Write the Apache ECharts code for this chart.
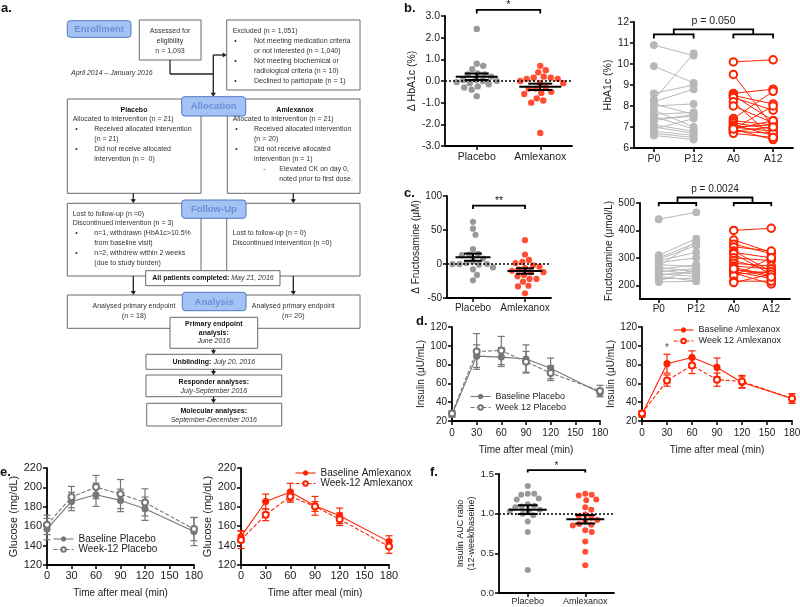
<!DOCTYPE html>
<html><head><meta charset="utf-8">
<script src="https://cdn.jsdelivr.net/npm/echarts@6/dist/echarts.min.js"></script>
<style>html,body{margin:0;padding:0;background:#fff}#c{width:800px;height:607px}</style>
</head><body><div id="c"></div>
<script>
// ================= DATA =================
const groupLabels = ['Placebo', 'Amlexanox'];
const pairLabels = ['P0', 'P12', 'A0', 'A12'];
const timePoints = [0, 30, 60, 90, 120, 180];

// b. change in HbA1c (%)
const dHbA1cPlacebo = [2.4, 0.7, 0.55, 0.8, 0.35, 0.3, 0.3, 0.2, 0.05, 0, 0, 0.05, -0.05, -0.1, -0.15, -0.25, -0.3, -0.4, -0.7];
const dHbA1cAmlexanox = [0.7, 0.5, 0.4, 0.2, 0.15, 0.15, 0.1, 0.1, 0, -0.1, -0.1, -0.3, -0.35, -0.35, -0.5, -0.55, -0.6, -0.8, -0.9, -1.0, -2.4];
// b. HbA1c (%) paired
const hbaP0  = [10.9, 9.9, 8.6, 8.3, 8.2, 8.1, 8.0, 7.8, 7.6, 7.5, 7.4, 7.3, 7.1, 7.0, 6.9, 6.8, 6.7, 6.6];
const hbaP12 = [10.4, 9.1, 9.0, 10.5, 8.8, 7.6, 8.1, 7.0, 7.7, 6.9, 7.5, 7.6, 6.8, 6.7, 7.4, 6.6, 6.5, 6.4];
const hbaA0  = [10.1, 9.5, 8.6, 8.5, 8.5, 8.4, 8.2, 8.0, 7.4, 7.3, 7.2, 7.1, 7.0, 7.0, 6.9, 6.9, 6.8, 6.8, 6.7, 6.9];
const hbaA12 = [10.2, 7.0, 8.8, 8.1, 7.3, 7.8, 6.5, 7.2, 8.7, 7.1, 6.9, 6.6, 7.1, 6.8, 7.3, 6.4, 6.7, 7.0, 6.5, 8.0];
// c. change in fructosamine (uM)
const dFrucPlacebo = [62, 52, 43, 22, 15, 14, 13, 8, 4, 1.5, 0, 0, 0, -1, -5, -8, -16, -24];
const dFrucAmlexanox = [35, 14, 6, 3, 1.5, -2, -4, -6, -8, -10, -12, -12, -16, -18, -22, -22, -26, -32, -33, -43];
// c. fructosamine (umol/L) paired
const frucP0  = [441, 310, 300, 295, 290, 283, 275, 270, 265, 258, 255, 249, 242, 238, 233, 225, 215, 212];
const frucP12 = [466, 370, 355, 345, 320, 300, 268, 360, 250, 275, 240, 262, 232, 250, 215, 225, 260, 215];
const frucA0  = [400, 365, 350, 340, 325, 320, 315, 300, 290, 280, 270, 265, 255, 250, 245, 240, 235, 215, 210, 260];
const frucA12 = [408, 320, 315, 325, 250, 300, 240, 290, 255, 270, 260, 235, 245, 225, 205, 250, 300, 215, 240, 230];
// d. insulin (uU/mL), mean and SEM
const insBasePlacebo = [27, 89, 88, 86, 76, 50];
const insBasePlaceboSem = [3, 12, 10, 15, 11, 4];
const insWk12Placebo = [28, 94, 95, 83, 71, 52];
const insWk12PlaceboSem = [3, 19, 15, 11, 8, 6];
const insBaseAmlex = [27, 81, 87.6, 77, 61, 44];
const insBaseAmlexSem = [3, 10, 7, 10, 6, 5];
const insWk12Amlex = [28, 63, 79, 64, 62, 44];
const insWk12AmlexSem = [3, 6, 8.5, 7, 6.5, 5];
// e. glucose (mg/dL), mean and SEM
const gluBasePlacebo = [157, 185.5, 192.4, 186.6, 178, 154.5];
const gluBasePlaceboSem = [11, 9.5, 12, 11.6, 12, 14.5];
const gluWk12Placebo = [161.4, 190, 200.3, 193.1, 184.5, 157];
const gluWk12PlaceboSem = [10, 11, 12, 15, 14, 12];
const gluBaseAmlex = [149.3, 185.5, 195.2, 181, 170.7, 144.1];
const gluBaseAmlexSem = [6, 7.6, 9, 9.7, 8, 6];
const gluWk12Amlex = [145.9, 171.7, 190.7, 180.3, 167.2, 139];
const gluWk12AmlexSem = [9, 6, 6, 5, 6.5, 7];
// f. insulin AUC ratio
const aucPlacebo = [1.35, 1.25, 1.25, 1.24, 1.19, 1.18, 1.12, 1.1, 1.09, 1.08, 1.05, 1.04, 1.03, 1.0, 0.98, 0.9, 0.77, 0.29];
const aucAmlexanox = [1.25, 1.24, 1.23, 1.18, 1.17, 1.08, 1.05, 0.99, 0.97, 0.95, 0.92, 0.9, 0.87, 0.86, 0.85, 0.79, 0.77, 0.65, 0.52, 0.35];
// annotations
const sigB = '*', sigC = '**', sigF = '*', sigD = '*';
const pHbA1c = 'p = 0.050', pFruc = 'p = 0.0024';

// ================= STYLE / LAYOUT =================
const FF = '"Liberation Sans", Arial, Helvetica, sans-serif';
const RED = '#ff2200', GRAY = '#808080', LGRAY = '#b8b8b8', DGRAY = '#777777';
const grids = [
  {left: 445, top: 16, width: 127, height: 130},   // 0 b-left
  {left: 634, top: 22, width: 159, height: 126},   // 1 b-right
  {left: 447, top: 196, width: 104, height: 102},  // 2 c-left
  {left: 640, top: 203, width: 150, height: 96},   // 3 c-right
  {left: 452, top: 327, width: 148, height: 94},   // 4 d-left
  {left: 642, top: 327, width: 150, height: 94},   // 5 d-right
  {left: 47, top: 468, width: 147, height: 97},    // 6 e-left
  {left: 241, top: 468, width: 148, height: 97},   // 7 e-right
  {left: 499, top: 474, width: 115, height: 119}   // 8 f
];

function meanSem(a) {
  const n = a.length, m = a.reduce((s, v) => s + v, 0) / n;
  const sd = Math.sqrt(a.reduce((s, v) => s + (v - m) * (v - m), 0) / (n - 1));
  return [m, sd / Math.sqrt(n)];
}
// deterministic beeswarm: offsets computed in pixel space
function swarm(vals, center, pxPerY, pxPerX, d) {
  const order = vals.map((v, i) => i).sort((a, b) => vals[b] - vals[a]);
  const placed = [], out = [];
  order.forEach(i => {
    const py = vals[i] * pxPerY;
    for (let k = 0; k < 400; k++) {
      const off = (k === 0 ? 0 : (k % 2 ? 1 : -1) * Math.ceil(k / 2)) * 0.5;
      if (placed.every(p => (p[0] - off) ** 2 + (p[1] - py) ** 2 >= d * d)) {
        placed.push([off, py]); out.push([center + off / pxPerX, vals[i]]); break;
      }
    }
  });
  return out;
}

const axLine = {show: true, onZero: false, lineStyle: {color: '#000', width: 1.8}};
const axTick = {show: true, length: 4, lineStyle: {color: '#000', width: 1.5}};
function yAx(gi, o) {
  const a = {
    type: 'value', gridIndex: gi, min: o.min, max: o.max,
    name: o.name, nameLocation: 'middle', nameGap: o.gap, nameRotate: 90,
    nameTextStyle: {fontSize: o.nfs || o.fs, color: '#222', fontFamily: FF, lineHeight: o.nlh},
    axisLine: axLine, axisTick: Object.assign({}, axTick),
    axisLabel: {fontSize: o.fs, color: '#222', fontFamily: FF, margin: 5, formatter: o.fmt},
    splitLine: {show: false}
  };
  if (o.interval != null) a.interval = o.interval;
  if (o.custom) { a.axisLabel.customValues = o.custom; a.axisTick.customValues = o.custom; }
  return a;
}
function xCat(gi, labels, fs, margin) {
  const vals = labels.map((_, i) => i);
  return {
    type: 'value', gridIndex: gi, min: -0.5, max: labels.length - 0.5,
    axisLine: axLine, axisTick: Object.assign({customValues: vals}, axTick),
    axisLabel: {customValues: vals, formatter: v => labels[Math.round(v)], fontSize: fs, color: '#222', fontFamily: FF, margin: margin},
    splitLine: {show: false}
  };
}
function xTime(gi, fs, nfs, gap, margin) {
  return {
    type: 'value', gridIndex: gi, min: 0, max: 180, interval: 30,
    name: 'Time after meal (min)', nameLocation: 'middle', nameGap: gap,
    nameTextStyle: {fontSize: nfs, color: '#222', fontFamily: FF},
    axisLine: axLine, axisTick: axTick,
    axisLabel: {fontSize: fs, color: '#222', fontFamily: FF, margin: margin},
    splitLine: {show: false}
  };
}

const series = [];
function dots(gi, vals, c, color, yr, size, refY) {
  const g = grids[gi];
  const s = {type: 'scatter', xAxisIndex: gi, yAxisIndex: gi, silent: true, z: 3,
    data: swarm(vals, c, g.height / yr, g.width / 2, size + 0.4),
    symbol: 'circle', symbolSize: size, itemStyle: {color: color}};
  if (refY != null) s.markLine = {silent: true, symbol: ['none', 'none'], label: {show: false},
    lineStyle: {type: [2, 2], color: '#000', width: 1.6}, data: [{yAxis: refY}], z: 4};
  series.push(s);
}
function meanSemSeries(gi, vals, c, hm, hs) {
  const ms = meanSem(vals);
  series.push({type: 'custom', xAxisIndex: gi, yAxisIndex: gi, silent: true, z: 6,
    data: [[c, ms[0], ms[1]]],
    renderItem: (p, api) => {
      const x = api.value(0), m = api.value(1), s = api.value(2);
      const cm = api.coord([x, m]), t = api.coord([x, m + s]), b = api.coord([x, m - s]);
      const st = {stroke: '#000', lineWidth: 2};
      return {type: 'group', children: [
        {type: 'line', shape: {x1: cm[0] - hm, y1: cm[1], x2: cm[0] + hm, y2: cm[1]}, style: st},
        {type: 'line', shape: {x1: t[0], y1: t[1], x2: b[0], y2: b[1]}, style: st},
        {type: 'line', shape: {x1: t[0] - hs, y1: t[1], x2: t[0] + hs, y2: t[1]}, style: st},
        {type: 'line', shape: {x1: b[0] - hs, y1: b[1], x2: b[0] + hs, y2: b[1]}, style: st}
      ]};
    }});
}
function bracket(gi, x1, x2, y, ye, text, fs) {
  series.push({type: 'custom', xAxisIndex: gi, yAxisIndex: gi, silent: true, z: 7, clip: false,
    data: [[x1, x2, y, ye]],
    renderItem: (p, api) => {
      const a = api.coord([api.value(0), api.value(2)]), b = api.coord([api.value(1), api.value(2)]);
      const ae = api.coord([api.value(0), api.value(3)]), be = api.coord([api.value(1), api.value(3)]);
      return {type: 'group', children: [
        {type: 'polyline', shape: {points: [ae, a, b, be]}, style: {stroke: '#000', lineWidth: 1.8, fill: null}},
        {type: 'text', style: {text: text, x: (a[0] + b[0]) / 2, y: a[1] + 1, align: 'center', verticalAlign: 'bottom', fontSize: fs, fontFamily: FF, fill: '#222'}}
      ]};
    }});
}
function pairBracket(gi, ys, ye, yt, text, fs) {
  series.push({type: 'custom', xAxisIndex: gi, yAxisIndex: gi, silent: true, z: 7, clip: false,
    data: [[ys, ye, yt]],
    renderItem: (p, api) => {
      const s = api.value(0), e = api.value(1), t = api.value(2);
      const P = [0, 1, 2, 3].map(i => api.coord([i, s])), E = [0, 1, 2, 3].map(i => api.coord([i, e]));
      const m1 = (P[0][0] + P[1][0]) / 2, m2 = (P[2][0] + P[3][0]) / 2, yT = api.coord([0, t])[1];
      const st = {stroke: '#000', lineWidth: 1.8, fill: null};
      return {type: 'group', children: [
        {type: 'polyline', shape: {points: [E[0], P[0], P[1], E[1]]}, style: st},
        {type: 'polyline', shape: {points: [E[2], P[2], P[3], E[3]]}, style: st},
        {type: 'polyline', shape: {points: [[m1, P[0][1]], [m1, yT], [m2, yT], [m2, P[0][1]]]}, style: st},
        {type: 'text', style: {text: text, x: (m1 + m2) / 2, y: yT - 3, align: 'center', verticalAlign: 'bottom', fontSize: fs, fontFamily: FF, fill: '#222'}}
      ]};
    }});
}
function pairs(gi, before, after, i0, color, open) {
  before.forEach((v, i) => series.push({type: 'line', xAxisIndex: gi, yAxisIndex: gi, silent: true, z: 3,
    data: [[i0, v], [i0 + 1, after[i]]], symbol: open ? 'emptyCircle' : 'circle', symbolSize: open ? 7.5 : 6.8,
    lineStyle: {color: color, width: 1}, itemStyle: {color: color, borderColor: color, borderWidth: 1.1}}));
}
function errBars(gi, mean, sem, color) {
  series.push({type: 'custom', xAxisIndex: gi, yAxisIndex: gi, silent: true, z: 2,
    data: timePoints.map((t, i) => [t, mean[i], sem[i]]),
    renderItem: (p, api) => {
      const x = api.value(0), m = api.value(1), s = api.value(2);
      const t = api.coord([x, m + s]), b = api.coord([x, m - s]);
      const st = {stroke: color, lineWidth: 1.2};
      return {type: 'group', children: [
        {type: 'line', shape: {x1: t[0], y1: t[1], x2: b[0], y2: b[1]}, style: st},
        {type: 'line', shape: {x1: t[0] - 3.5, y1: t[1], x2: t[0] + 3.5, y2: t[1]}, style: st},
        {type: 'line', shape: {x1: b[0] - 3.5, y1: b[1], x2: b[0] + 3.5, y2: b[1]}, style: st}
      ]};
    }});
}
function tsLine(gi, name, mean, color, dashed, open) {
  series.push({type: 'line', name: name, xAxisIndex: gi, yAxisIndex: gi, silent: true, z: 4,
    data: timePoints.map((t, i) => [t, mean[i]]),
    symbol: open ? 'emptyCircle' : 'circle', symbolSize: 6,
    lineStyle: {color: color, width: 1.1, type: dashed ? [4, 2] : 'solid'},
    itemStyle: {color: color, borderColor: color, borderWidth: 1.1}});
}

// b-left
dots(0, dHbA1cPlacebo, 0, GRAY, 6, 6.4, 0);
dots(0, dHbA1cAmlexanox, 1, RED, 6, 6.4);
meanSemSeries(0, dHbA1cPlacebo, 0, 21, 12);
meanSemSeries(0, dHbA1cAmlexanox, 1, 21, 12);
bracket(0, 0, 1, 3.28, 3.12, sigB, 11);
// b-right
pairs(1, hbaP0, hbaP12, 0, LGRAY, false);
pairs(1, hbaA0, hbaA12, 2, RED, true);
pairBracket(1, 11.41, 11.22, 11.65, pHbA1c, 10.5);
// c-left
dots(2, dFrucPlacebo, 0, GRAY, 150, 6.2, 0);
dots(2, dFrucAmlexanox, 1, RED, 150, 6.2);
meanSemSeries(2, dFrucPlacebo, 0, 17.5, 9);
meanSemSeries(2, dFrucAmlexanox, 1, 17.5, 9);
bracket(2, 0, 1, 85.7, 80.9, sigC, 10.5);
// c-right
pairs(3, frucP0, frucP12, 0, LGRAY, false);
pairs(3, frucA0, frucA12, 2, RED, true);
pairBracket(3, 500, 488, 520, pFruc, 10);
// d
errBars(4, insBasePlacebo, insBasePlaceboSem, DGRAY);
errBars(4, insWk12Placebo, insWk12PlaceboSem, DGRAY);
tsLine(4, 'Baseline Placebo', insBasePlacebo, DGRAY, false, false);
tsLine(4, 'Week 12 Placebo', insWk12Placebo, DGRAY, true, true);
errBars(5, insBaseAmlex, insBaseAmlexSem, RED);
errBars(5, insWk12Amlex, insWk12AmlexSem, RED);
tsLine(5, 'Baseline Amlexanox', insBaseAmlex, RED, false, false);
tsLine(5, 'Week 12 Amlexanox', insWk12Amlex, RED, true, true);
series.push({type: 'scatter', xAxisIndex: 5, yAxisIndex: 5, silent: true, data: [[30, 97]], symbolSize: 0,
  label: {show: true, position: 'inside', formatter: sigD, fontSize: 10, color: '#222', fontFamily: FF}});
// e
errBars(6, gluBasePlacebo, gluBasePlaceboSem, DGRAY);
errBars(6, gluWk12Placebo, gluWk12PlaceboSem, DGRAY);
tsLine(6, 'Baseline Placebo', gluBasePlacebo, DGRAY, false, false);
tsLine(6, 'Week-12 Placebo', gluWk12Placebo, DGRAY, true, true);
errBars(7, gluBaseAmlex, gluBaseAmlexSem, RED);
errBars(7, gluWk12Amlex, gluWk12AmlexSem, RED);
tsLine(7, 'Baseline Amlexanox', gluBaseAmlex, RED, false, false);
tsLine(7, 'Week-12 Amlexanox', gluWk12Amlex, RED, true, true);
// f
dots(8, aucPlacebo, 0, GRAY, 1.5, 6, 1.0);
dots(8, aucAmlexanox, 1, RED, 1.5, 6);
meanSemSeries(8, aucPlacebo, 0, 19, 10);
meanSemSeries(8, aucAmlexanox, 1, 19, 10);
bracket(8, 0, 1, 1.55, 1.52, sigF, 10);

// ================= FLOWCHART (panel a) =================
const flow = [];
function fbox(x, y, w, h, z) { flow.push({type: 'rect', z: z || 10, shape: {x: x, y: y, width: w, height: h}, style: {fill: '#fff', stroke: '#6a6a6a', lineWidth: 1}}); }
function fhead(x, y, w, h, t) {
  flow.push({type: 'rect', z: 40, shape: {x: x, y: y, width: w, height: h, r: 3}, style: {fill: '#a4c2f4', stroke: '#4f78c4', lineWidth: 1}});
  flow.push({type: 'text', z: 41, style: {text: t, x: x + w / 2, y: y + h / 2 + 0.5, align: 'center', verticalAlign: 'middle', fill: '#6a8fd6', fontSize: 9.5, fontWeight: 'bold', fontFamily: FF}});
}
function ft(x, y, t, o) { flow.push({type: 'text', z: 50, style: Object.assign({text: t, x: x, y: y, align: 'left', verticalAlign: 'middle', fill: '#333', fontSize: 7, fontFamily: FF}, o || {})}); }
function fc(x, y, t, o) { ft(x, y, t, Object.assign({align: 'center'}, o || {})); }
const B = {fontWeight: 'bold', fill: '#111'}, I = {fontStyle: 'italic'};
function fl(x1, y1, x2, y2) { flow.push({type: 'line', z: 30, shape: {x1: x1, y1: y1, x2: x2, y2: y2}, style: {stroke: '#222', lineWidth: 1.3}}); }
function fad(x, y1, y2) { fl(x, y1, x, y2 - 3); flow.push({type: 'polygon', z: 30, shape: {points: [[x - 2.6, y2 - 4], [x + 2.6, y2 - 4], [x, y2]]}, style: {fill: '#222'}}); }
function far(x1, x2, y) { fl(x1, y, x2 - 3, y); flow.push({type: 'polygon', z: 30, shape: {points: [[x2 - 4, y - 2.6], [x2 - 4, y + 2.6], [x2, y]]}, style: {fill: '#222'}}); }
function frich(x, y, b, i) {
  flow.push({type: 'text', z: 50, style: {text: '{b|' + b + '} {i|' + i + '}', x: x, y: y, align: 'center', verticalAlign: 'middle',
    fontSize: 7, fontFamily: FF, rich: {b: {fontSize: 7, fontFamily: FF, fontWeight: 'bold', fill: '#111'}, i: {fontSize: 7, fontFamily: FF, fontStyle: 'italic', fill: '#333'}}}});
}
// enrollment
fhead(67.3, 20.7, 63.7, 16.6, 'Enrollment');
fbox(139.3, 20, 61.7, 40);
fc(170, 30.7, 'Assessed for'); fc(170, 40.7, 'eligibility'); fc(170, 50.7, 'n = 1,093');
fbox(226.7, 20, 133.3, 70);
ft(232.7, 30.7, 'Excluded (n = 1,051)');
[40.7, 60.7, 80.7].forEach(y => ft(234.3, y, '•'));
ft(254, 40.7, 'Not meeting medication criteria'); ft(254, 50.7, 'or not interested (n = 1,040)');
ft(254, 60.7, 'Not meeting biochemical or'); ft(254, 70.7, 'radiological criteria (n = 10)');
ft(254, 80.7, 'Declined to participate (n = 1)');
ft(71, 73.3, 'April 2014 – January 2016', I);
fl(170, 60, 170, 74); fl(170, 74, 213.3, 74); fad(213.3, 55, 96.7); far(213.3, 226.7, 55);
// allocation
fbox(67.3, 99, 133.7, 94.3); fbox(227.3, 99, 132.7, 94.3);
fhead(181.7, 96.7, 64, 19.3, 'Allocation');
fc(134, 110, 'Placebo', B); ft(72.7, 119.3, 'Allocated to intervention (n = 21)');
[129.3, 149].forEach(y => ft(75.3, y, '•'));
ft(94.3, 129.3, 'Received allocated intervention'); ft(94.3, 139, '(n = 21)');
ft(94.3, 149, 'Did not receive allocated'); ft(94.3, 159, 'intervention (n =  0)');
fc(295, 110, 'Amlexanox', B); ft(232.7, 119.3, 'Allocated to intervention (n = 21)');
[129.3, 149].forEach(y => ft(235.3, y, '•'));
ft(254, 129.3, 'Received allocated intervention'); ft(254, 139, '(n = 20)');
ft(254, 149, 'Did not receive allocated'); ft(254, 159, 'intervention (n = 1)');
ft(263.3, 169, '-'); ft(279.3, 169, 'Elevated CK on day 0,'); ft(279.3, 179, 'noted prior to first dose.');
fad(133.3, 193.3, 203.3); fad(293.3, 193.3, 203.3);
// follow-up
fbox(67.3, 203.3, 133.7, 72.7); fbox(226.7, 203.3, 133.3, 72.7);
fhead(181.7, 200, 64.3, 18.3, 'Follow-Up');
ft(72.7, 214, 'Lost to follow-up (n =0)'); ft(72.7, 223.3, 'Discontinued intervention (n = 3)');
[233.3, 253].forEach(y => ft(75.3, y, '•'));
ft(94.3, 233.3, 'n=1, withdrawn (HbA1c>10.5%'); ft(94.3, 243, 'from baseline visit)');
ft(94.3, 253, 'n=2, withdrew within 2 weeks'); ft(94.3, 262.7, '(due to study burden)');
ft(232.7, 233.3, 'Lost to follow-up (n = 0)'); ft(232.7, 243, 'Discontinued intervention (n =0)');
fbox(145.7, 270.7, 134.3, 15, 35); frich(213, 278.3, 'All patients completed:', 'May 21, 2016');
fad(133.3, 276, 295); fad(293.3, 276, 295);
// analysis
fbox(67.3, 295, 292.7, 33.3);
fhead(182.3, 292.3, 63.7, 18.4, 'Analysis');
fc(134, 306, 'Analysed primary endpoint'); fc(134, 316, '(n = 18)');
fc(293.3, 306, 'Analysed primary endpoint'); fc(293.3, 316, '(n= 20)');
fbox(170, 317.3, 87.7, 31, 35);
fc(213.8, 324, 'Primary endpoint', B); fc(213.8, 332.7, 'analysis:', B); fc(213.8, 341.3, 'June 2016', I);
fad(213.5, 348.3, 354.3);
fbox(146, 354.3, 135.7, 15); frich(213.8, 362, 'Unblinding:', 'July 20, 2016');
fad(213.5, 369.3, 375);
fbox(146, 375, 135.7, 21.7); fc(213.8, 382.3, 'Responder analyses:', B); fc(213.8, 391, 'July-September 2016', I);
fad(213.5, 396.7, 403.3);
fbox(146.7, 403.3, 135, 22.7); fc(213.8, 410.7, 'Molecular analyses:', B); fc(213.8, 419.7, 'September-December 2016', I);
// panel letters
[['a.', 1, 8], ['b.', 404, 8], ['c.', 404, 193], ['d.', 416, 321], ['e.', 0, 472], ['f.', 430, 472]].forEach(p =>
  flow.push({type: 'text', z: 60, style: {text: p[0], x: p[1], y: p[2], align: 'left', verticalAlign: 'middle', fontSize: 13, fontWeight: 'bold', fontFamily: FF, fill: '#111'}}));

// ================= OPTION =================
function leg(names, left, top, fs, gap) {
  return {show: true, data: names, orient: 'vertical', left: left, top: top, itemWidth: 20, itemHeight: 5.5, itemGap: gap,
    padding: 0, selectedMode: false, lineStyle: {width: 1.1}, itemStyle: {borderWidth: 1},
    textStyle: {fontSize: fs, color: '#222', fontFamily: FF}};
}
const option = {
  animation: false, backgroundColor: '#fff', textStyle: {fontFamily: FF},
  grid: grids.map(g => Object.assign({containLabel: false, outerBoundsMode: 'none'}, g)),
  xAxis: [
    xCat(0, groupLabels, 10.5, 6), xCat(1, pairLabels, 10.5, 6), xCat(2, groupLabels, 10, 5), xCat(3, pairLabels, 10, 5),
    xTime(4, 10, 10, 24, 7), xTime(5, 10, 10, 24, 7), xTime(6, 11, 10, 23, 5), xTime(7, 11, 10, 23, 5),
    xCat(8, groupLabels, 9, 4)
  ],
  yAxis: [
    yAx(0, {min: -3, max: 3, interval: 1, fs: 10.5, name: 'Δ HbA1c (%)', gap: 27, fmt: v => v.toFixed(1)}),
    yAx(1, {min: 6, max: 12, interval: 1, fs: 10.5, name: 'HbA1c (%)', gap: 18}),
    yAx(2, {min: -50, max: 100, interval: 50, fs: 10, name: 'Δ Fructosamine (μM)', gap: 21}),
    yAx(3, {min: 150, max: 500, custom: [200, 300, 400, 500], fs: 10, name: 'Fructosamine (μmol/L)', gap: 24}),
    yAx(4, {min: 20, max: 120, interval: 20, fs: 10, name: 'Insulin (μU/mL)', gap: 26}),
    yAx(5, {min: 20, max: 120, interval: 20, fs: 10, name: 'Insulin (μU/mL)', gap: 23}),
    yAx(6, {min: 120, max: 220, interval: 20, fs: 11, name: 'Glucose (mg/dL)', gap: 26}),
    yAx(7, {min: 120, max: 220, interval: 20, fs: 11, name: 'Glucose (mg/dL)', gap: 25}),
    yAx(8, {min: 0, max: 1.5, interval: 0.5, fs: 9.5, nfs: 9, nlh: 11, name: 'Insulin AUC ratio\n(12-week/baseine)', gap: 22, fmt: v => v.toFixed(1)})
  ],
  legend: [
    leg(['Baseline Placebo', 'Week 12 Placebo'], 470, 392, 9, 2),
    leg(['Baseline Amlexanox', 'Week 12 Amlexanox'], 673, 325.5, 9, 2),
    leg(['Baseline Placebo', 'Week-12 Placebo'], 53, 534, 10, 0.5),
    leg(['Baseline Amlexanox', 'Week-12 Amlexanox'], 295, 468, 10, 0.5)
  ],
  series: series,
  graphic: flow
};
const chart = echarts.init(document.getElementById('c'), null, {renderer: 'canvas'});
chart.setOption(option);
</script>
</body></html>
